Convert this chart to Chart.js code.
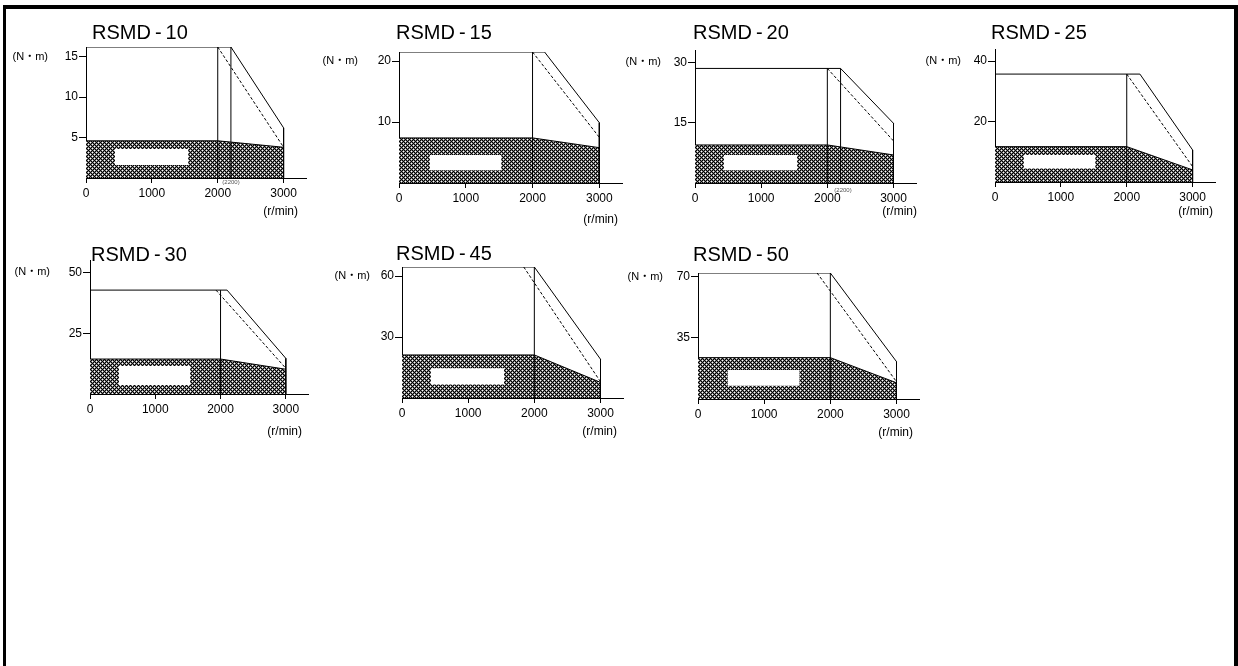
<!DOCTYPE html>
<html><head><meta charset="utf-8">
<script src="https://cdn.jsdelivr.net/npm/chart.js@4/dist/chart.umd.min.js"></script>
<style>
html,body{margin:0;padding:0;background:#fff;width:1238px;height:666px;overflow:hidden;position:relative}
#frame{position:absolute;left:3px;top:5px;width:1235px;height:700px;border-top:4px solid #000;border-left:3px solid #000;border-right:4px solid #000;box-sizing:border-box}
canvas{position:absolute}
</style></head><body>
<div id="frame"></div>
<script>
// ---------- data ----------
const models = ['RSMD-10','RSMD-15','RSMD-20','RSMD-25','RSMD-30','RSMD-45','RSMD-50'];
const speedTicks = [0,1000,2000,3000];
const speedMax = 3340;
const ratedSpeed = 2000;
const maxSpeed = 3000;
const torqueTicks = [[5,10,15],[10,20],[15,30],[20,40],[25,50],[30,60],[35,70]];
const torqueAxisMax = [16.2,21.5,33.2,44,55.2,64.5,72.2];
const contTorque = [4.6,7.4,9.5,11.7,14.4,21.2,23.7];
const contTorqueAtMax = [3.8,5.8,7.0,4.0,10.2,7.7,9.3];
const peakTorque = [16.2,21.5,28.6,35.7,42.8,64.5,72.2];
const peakKneeSpeed = [2200,2180,2200,2200,2100,2000,2000];
const peakTorqueAtMax = [6.2,9.9,14.9,10.6,14.7,19.1,21.4];
const dashStartSpeed = [2000,2000,2000,2000,1930,1840,1800];
const dashTorqueAtMax = [3.8,7.5,10.5,5.1,10.6,8.0,9.9];
const extraSpeedLines = [[2200],[],[2200],[],[],[],[]];
const maskSpeed = [[440,1555],[460,1535],[435,1546],[435,1526],[442,1537],[434,1543],[445,1537]];
const maskTorque = [[1.6,3.6],[2.1,4.6],[3.2,7.0],[4.5,8.9],[3.7,11.5],[6.7,14.6],[7.6,16.6]];

// ---------- layout (page pixels) ----------
const areas = [[86,47,306,178],[399,52,622,183],[695,50,916,183],[995,49,1215,182],
               [90,260,308,394],[402,267,623,398],[698,273,919,399]];
const titlePos = [[92,33],[396,33],[693,33],[991,33],[91,255],[396,254],[693,255]];
const unitPos = [[48,57],[358,61],[661,62],[961,61],[50,272],[370,276],[663,277]];
const rpmPos = [[298,212],[618,220],[917,212],[1213,212],[302,432],[617,432],[913,433]];
const notePos = [[231,182.5],null,[843,190],null,null,null,null];

const FONT = '"Liberation Sans", Arial, "Noto Sans CJK JP", sans-serif';
const PADL = 86, PADT = 45, PADR = 15, PADB = 45;

function hatch(){
  const c=document.createElement('canvas'); c.width=4; c.height=4;
  const g=c.getContext('2d');
  const img=g.createImageData(4,4);
  for(let y=0;y<4;y++) for(let x=0;x<4;x++){
    const s=(x+y)%4, d=((x-y)%4+4)%4;
    let v;
    if ((x+y)%2===1) v=125;            // between lines
    else if (s===2 && d===2) v=255;    // diamond centre
    else v=0;                          // on a line
    const k=(y*4+x)*4;
    img.data[k]=img.data[k+1]=img.data[k+2]=v; img.data[k+3]=255;
  }
  g.putImageData(img,0,0);
  return g.createPattern(c,'repeat');
}
const pattern = hatch();

const labelsPlugin = {
  id:'labels',
  afterDraw(chart, args, o){
    const ctx = chart.ctx, i = o.index, ox = o.ox, oy = o.oy;
    ctx.save();
    ctx.fillStyle = '#000';
    ctx.textBaseline = 'middle';
    ctx.font = '20px ' + FONT; ctx.textAlign = 'left';
    ctx.fillText(models[i].replace('-', '\u2009-\u2009'), titlePos[i][0]-ox, titlePos[i][1]-oy);
    ctx.font = '11px ' + FONT; ctx.textAlign = 'right';
    ctx.fillText('(N\u30FBm)', unitPos[i][0]-ox, unitPos[i][1]-oy);
    ctx.font = '12px ' + FONT;
    ctx.fillText('(r/min)', rpmPos[i][0]-ox, rpmPos[i][1]-oy);
    if (notePos[i]) {
      ctx.font = '6px ' + FONT; ctx.fillStyle = '#555'; ctx.textAlign = 'center';
      ctx.fillText('(' + extraSpeedLines[i][0] + ')', notePos[i][0]-ox, notePos[i][1]-oy);
    }
    ctx.restore();
  }
};

const lineDs = (data, extra) => Object.assign({
  data, borderColor:'#000', borderWidth:1, pointRadius:0, fill:false, tension:0, order:0
}, extra || {});

models.forEach((name, i) => {
  const A = areas[i];
  const cL = A[0]-PADL, cT = A[1]-PADT, cW = A[2]+PADR-cL, cH = A[3]+PADB-cT;
  const cv = document.createElement('canvas');
  cv.width = cW; cv.height = cH;
  cv.style.left = cL + 'px'; cv.style.top = cT + 'px';
  cv.style.width = cW + 'px'; cv.style.height = cH + 'px';
  document.body.appendChild(cv);

  const datasets = [
    { // continuous operating zone (hatched)
      data:[{x:0,y:contTorque[i]},{x:ratedSpeed,y:contTorque[i]},{x:maxSpeed,y:contTorqueAtMax[i]}],
      fill:'origin', backgroundColor:pattern, borderColor:'#000', borderWidth:1,
      pointRadius:0, tension:0, order:3
    },
    { // blank label area
      data:[{x:maskSpeed[i][0],y:maskTorque[i][1]},{x:maskSpeed[i][1],y:maskTorque[i][1]}],
      fill:{value:maskTorque[i][0]}, backgroundColor:'#fff', borderWidth:0, borderColor:'rgba(0,0,0,0)',
      pointRadius:0, tension:0, order:2
    },
    lineDs([{x:0,y:peakTorque[i]},{x:peakKneeSpeed[i],y:peakTorque[i]},
            {x:maxSpeed,y:peakTorqueAtMax[i]},{x:maxSpeed,y:0}]),
    lineDs([{x:dashStartSpeed[i],y:peakTorque[i]},{x:maxSpeed,y:dashTorqueAtMax[i]}],{borderDash:[3,2]}),
    lineDs([{x:ratedSpeed,y:0},{x:ratedSpeed,y:peakTorque[i]}])
  ];
  extraSpeedLines[i].forEach(s => datasets.push(lineDs([{x:s,y:0},{x:s,y:peakTorque[i]}])));

  new Chart(cv, {
    type:'line',
    data:{ datasets },
    plugins:[labelsPlugin],
    options:{
      responsive:false, animation:false, devicePixelRatio:1,
      layout:{ padding:{ left:0, top:PADT, right:PADR, bottom:0 } },
      plugins:{ legend:{display:false}, tooltip:{enabled:false}, title:{display:false},
                labels:{ index:i, ox:cL, oy:cT } },
      scales:{
        x:{
          type:'linear', min:0, max:speedMax,
          afterBuildTicks: s => { s.ticks = speedTicks.map(v => ({value:v})); },
          afterFit: s => { s.height = PADB; s.paddingLeft = 0; s.paddingRight = 0; s.paddingTop = 0; s.paddingBottom = 0; },
          grid:{ display:true, drawOnChartArea:false, drawTicks:true, tickLength:5, color:'#000', lineWidth:1 },
          border:{ display:true, color:'#000', width:1 },
          ticks:{ font:{family:FONT, size:12}, color:'#000', padding:3, maxRotation:0, autoSkip:false,
                  callback: v => String(v) }
        },
        y:{
          type:'linear', min:0, max:torqueAxisMax[i],
          afterBuildTicks: s => { s.ticks = torqueTicks[i].map(v => ({value:v})); },
          afterFit: s => { s.width = PADL; s.paddingLeft = 0; s.paddingRight = 0; s.paddingTop = 0; s.paddingBottom = 0; },
          grid:{ display:true, drawOnChartArea:false, drawTicks:true, tickLength:7, color:'#000', lineWidth:1 },
          border:{ display:true, color:'#000', width:1 },
          ticks:{ font:{family:FONT, size:12}, color:'#000', padding:1, autoSkip:false,
                  callback: v => String(v) }
        }
      }
    }
  });
});
</script>
</body></html>
